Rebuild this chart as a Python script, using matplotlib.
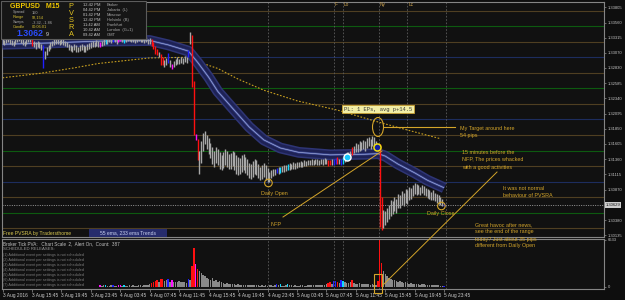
import matplotlib
matplotlib.use("Agg")
import matplotlib.pyplot as plt
from matplotlib.patches import Rectangle, Ellipse
from matplotlib.lines import Line2D
import numpy as np

plt.rcParams['font.family'] = ['Liberation Sans', 'DejaVu Sans']

# ---------------- data: GBPUSD M15, prices in pips above 1.3000 ----------------
highs = [
 330,328,331,333,330,328,326,329,332,334,
 331,329,327,330,333,331,329,326,324,327,
 325,322,320,310,316,320,324,327,329,331,
 330,328,331,329,327,325,322,320,318,321,
 319,317,320,322,319,318,321,323,325,327,
 325,328,326,324,327,329,331,330,332,331,
 333,332,330,332,334,333,331,333,335,334,
 332,333,331,333,334,332,333,331,332,330,
 331,330,325,318,314,308,305,300,296,299,
 307,296,289,294,297,300,298,301,299,302,
 300,312,341,336,262,176,168,150,165,178,
 182,175,170,162,155,150,156,152,147,143,
 148,152,149,145,146,150,148,143,140,138,
 142,145,140,136,130,128,133,137,134,128,
 124,127,130,126,122,115,118,120,121,122,
 124,123,125,127,126,128,130,129,131,130,
 132,131,133,132,134,133,135,134,136,135,
 137,136,135,137,136,138,137,134,135,136,
 137,138,139,137,136,140,145,148,147,150,
 156,158,162,160,165,163,167,165,170,172,
 168,174,171,165,158,160,75,55,52,58,
 62,70,68,75,72,80,78,85,82,88,
 86,92,90,95,98,96,94,92,95,93,
 90,88,86,84,86,82,80,78,75,72,
 65]
lows = [
 322,320,323,325,322,319,318,321,324,326,
 323,320,318,322,325,324,318,316,314,317,
 315,312,283,298,304,310,314,318,320,322,
 321,320,322,320,318,316,312,310,309,311,
 309,308,310,312,309,308,311,313,315,317,
 316,318,317,317,318,320,322,322,324,323,
 325,324,322,324,326,325,323,325,327,326,
 324,325,323,325,326,324,325,323,324,322,
 322,318,314,306,303,300,288,288,285,287,
 291,284,281,284,288,290,289,291,290,292,
 291,300,322,252,175,167,135,112,130,150,
 160,152,145,138,128,124,130,126,121,119,
 122,127,124,120,121,125,118,112,110,112,
 115,118,114,110,106,104,108,112,110,105,
 102,104,107,103,99,100,106,109,110,113,
 112,113,115,116,117,118,119,120,121,121,
 122,123,124,123,125,125,126,126,127,126,
 128,127,126,128,127,129,128,125,126,126,
 127,128,129,128,126,128,132,136,137,138,
 143,146,148,147,150,151,152,150,154,157,
 153,158,155,152,150,27,22,25,30,35,
 40,45,48,52,50,57,58,63,60,66,
 64,70,72,76,80,78,80,79,81,78,
 76,74,72,70,71,68,66,64,62,61,
 61]

red_bars = [16, 81, 82, 83, 84, 86, 87, 103, 104, 106, 177, 178, 182, 190, 204, 205, 206]
blue_bars = [22, 60, 90, 101, 149, 180, 181, 184, 240]
magenta_bars = [53, 63, 64, 92, 105]
cyan_bars = [56, 66, 151, 155, 185]

vol_start = 53
volume = [
 180,150,200,260,160,140,180,
 230,150,170,280,300,160,290,170,150,190,
 160,210,170,150,200,180,160,220,260,300,
 380,520,650,780,900,600,1100,1150,800,900,
 1050,700,1000,650,700,600,750,650,700,600,
 550,1100,900,2900,5480,3200,2500,2300,1900,1700,
 1500,1200,1100,950,1300,800,900,700,750,600,
 550,450,500,400,350,420,380,300,350,280,
 250,300,230,260,200,240,210,180,220,190,
 170,200,160,180,150,220,180,160,200,320,
 180,360,170,150,190,400,200,180,160,200,
 170,150,180,210,170,160,190,230,200,180,
 250,220,280,240,300,260,320,500,600,420,
 750,800,700,500,900,800,600,550,500,620,
 1000,500,450,400,550,420,380,450,350,400,
 300,350,280,250,850,6633,3300,2200,1800,1500,
 1300,1100,900,1000,800,700,750,600,550,650,
 500,450,520,400,380,450,350,300,380,320,
 280,250,300,220,260,200,180,220,150,120,
 100]
vol_max_label = 6633

# 55 EMA band and 233 EMA (pips above 1.3000)
ema55_bars = [0, 25, 52, 80, 90, 101, 106, 112, 117, 125, 134, 142, 151, 161, 178, 197, 204, 208, 215, 224, 231, 240]
ema55_vals = [321, 323, 326, 327, 320, 310, 292, 268, 245, 218, 188, 167, 154, 147, 143, 144, 145, 141, 128, 114, 102, 90]
ema233_bars = [0, 20, 39, 52, 80, 101, 106, 117, 128, 142, 160, 182, 204, 220, 238]
ema233_vals = [267, 274, 283, 290, 299, 300, 293, 282, 265, 247, 230, 215, 196, 183, 169]

round_levels = [1.3025, 1.3050, 1.3075, 1.3100, 1.3125, 1.3150, 1.3175, 1.3200,
                1.3225, 1.3250, 1.3275, 1.3300, 1.3325, 1.3350, 1.3375]
price_ticks = [1.33805, 1.33560, 1.33315, 1.33070, 1.32830, 1.32585, 1.32340, 1.32095,
               1.31850, 1.31605, 1.31360, 1.31115, 1.30870, 1.30380, 1.30135]
last_price = 1.30629

time_label_bars = [0, 16, 32, 48, 64, 80, 96, 112, 128, 144, 160, 176, 192, 208, 224, 240]
time_labels = ["3 Aug 2016", "3 Aug 15:45", "3 Aug 19:45", "3 Aug 23:45", "4 Aug 03:45",
               "4 Aug 07:45", "4 Aug 11:45", "4 Aug 15:45", "4 Aug 19:45", "4 Aug 23:45",
               "5 Aug 03:45", "5 Aug 07:45", "5 Aug 11:45", "5 Aug 15:45", "5 Aug 19:45",
               "5 Aug 23:45"]

session_bars = [144, 180, 185, 204.5, 220, 241]
session_names = ["", "F", "Lo", "Ny", "Lc", ""]

daily_bars = [144.5, 238.5]
daily_prices = [1.30978, 1.30607]
signal_bars = [187, 203.5]
signal_prices = [1.31396, 1.31558]

# ---------------- figure ----------------
W, H = 625, 300
BG = '#111111'
GOLD = '#d4a52a'
fig = plt.figure(figsize=(6.25, 3.0), dpi=100)
fig.patch.set_facecolor('#0e0e0e')

ax = fig.add_axes([2 / W, 1 - 237 / H, 602 / W, 235 / H])
axv = fig.add_axes([2 / W, 1 - 289 / H, 602 / W, 50 / H])
X0, X1 = -0.3, -0.3 + 602 / 1.84
for a in (ax, axv):
    a.set_facecolor(BG)
    a.set_xlim(X0, X1)
    for s in a.spines.values():
        s.set_color('#858585')
        s.set_linewidth(0.8)
ax.set_ylim(1.30108, 1.33890)
axv.set_ylim(-325, 6774)

def to_price(v):
    return 1.3 + np.asarray(v, dtype=float) / 10000.0

# round-number levels
for lv in round_levels:
    k = int(round(lv * 10000)) % 100
    c = '#1d2d5e' if k == 0 else ('#0d5a10' if k == 50 else '#4f3f22')
    ax.axhline(lv, color=c, lw=0.8, zorder=1)

# session lines
for b in session_bars:
    for a in (ax, axv):
        a.axvline(b, color='#5c5c5c', lw=0.6, ls=(0, (2, 2)), zorder=1.5)
for b, nm in zip(session_bars, session_names):
    if nm:
        ax.text(b + 0.6, 0.991, nm, transform=ax.get_xaxis_transform(), fontsize=3.4,
                color='#c8a050', va='center', ha='left', zorder=6)

# current price dotted line
ax.axhline(last_price, color='#9a9a9a', lw=0.7, ls=(0, (1, 1.4)), zorder=2)

# EMA 233 dotted and 55 EMA band
ax.plot(ema233_bars, to_price(ema233_vals), color='#c9a020', lw=0.8, ls=(0, (1.5, 1.5)), zorder=2)
e55 = to_price(ema55_vals)
ax.plot(ema55_bars, e55, color='#2e3575', lw=7.8, solid_capstyle='butt', zorder=3)
ax.plot(ema55_bars, e55, color='#1e2255', lw=5.6, solid_capstyle='butt', zorder=3)
ax.plot(ema55_bars, e55, color='#3a4690', lw=1.6, solid_capstyle='butt', zorder=3)
ax.plot(ema55_bars, e55, color='#a6b2e0', lw=0.45, solid_capstyle='butt', zorder=3)

# bar colours
n = len(highs)
cols = ['#a8a8a8'] * n
for lst, c in ((red_bars, '#ff1010'), (blue_bars, '#2020ff'),
               (magenta_bars, '#ff10ff'), (cyan_bars, '#10d8ff')):
    for i in lst:
        cols[i] = c
idx = np.arange(n)
ax.vlines(idx, to_price(lows), to_price(highs), colors=cols, lw=1.0, zorder=4)

# markers
ax.scatter(daily_bars, daily_prices, s=30, facecolors='none', edgecolors=GOLD, linewidths=0.8, zorder=6)
ax.scatter(signal_bars[:1], signal_prices[:1], s=26, facecolors='#18c8ff', edgecolors='white', linewidths=1.0, zorder=6)
ax.scatter(signal_bars[1:], signal_prices[1:], s=26, facecolors='#1020a0', edgecolors='#f0e010', linewidths=1.1, zorder=6)

# price axis on right
ax.yaxis.tick_right()
ax.set_yticks(price_ticks)
ax.set_yticklabels([f"{p:.5f}" for p in price_ticks])
ax.tick_params(axis='y', length=1.5, width=0.5, color='#909090', labelsize=3.0,
               labelcolor='#c4c4c4', pad=1)
ax.tick_params(axis='x', bottom=False, labelbottom=False)

# volume panel
vx = np.arange(vol_start, vol_start + len(volume))
axv.bar(vx, volume, width=0.8, color=[cols[i] if cols[i] != '#a8a8a8' else '#8a8a8a' for i in vx],
        linewidth=0, zorder=3)
axv.yaxis.tick_right()
axv.set_yticks([0, vol_max_label])
axv.set_yticklabels(['0', str(vol_max_label)])
axv.tick_params(axis='y', length=1.5, width=0.5, color='#909090', labelsize=3.0,
                labelcolor='#c4c4c4', pad=1)
axv.set_xticks(time_label_bars)
axv.set_xticklabels(time_labels)
axv.tick_params(axis='x', length=2, width=0.5, color='#909090', labelsize=3.5,
                labelcolor='#c8c8c8', pad=1.2)
for lb in axv.get_xticklabels():
    lb.set_ha('left')

# ---------------- helpers in pixel space ----------------
def T(x, y, s, **kw):
    kw.setdefault('va', 'center')
    kw.setdefault('ha', 'left')
    kw.setdefault('zorder', 12)
    return fig.text(x / W, 1 - y / H, s, **kw)

def L(x1, y1, x2, y2, **kw):
    fig.add_artist(Line2D([x1 / W, x2 / W], [1 - y1 / H, 1 - y2 / H],
                          transform=fig.transFigure, **kw))

def R(x, y, w, h, **kw):
    fig.add_artist(Rectangle((x / W, 1 - (y + h) / H), w / W, h / H,
                             transform=fig.transFigure, **kw))

# info box
R(0.5, 0.5, 145.5, 38.5, facecolor='#161616', edgecolor='#5c5c5c', lw=0.8, zorder=10)
T(10, 6.5, "GBPUSD   M15", fontsize=5, fontweight='bold', color='#f0c800')
info_names = ["Spread", "Range", "Swaps", "Candle"]
info_vals = ["150", "92,154", "-3.32, -1.86", "00:06:01"]
info_cols = ['#a8a8a8', '#d8c030', '#a8a8a8', '#d8c030']
for k, (a, b, c) in enumerate(zip(info_names, info_vals, info_cols)):
    T(13, 12.5 + 4.8 * k, a, fontsize=2.8, color=c)
    T(32, 12.5 + 4.8 * k, b, fontsize=2.8, color=c)
T(16, 33.5, "1.3062", fontsize=6.3, fontweight='bold', color='#2a4cff')
T(45.5, 34.5, "9", fontsize=4, color='#d8d8d8')
for k, ch in enumerate("PVSRA"):
    T(71, 7 + 6.8 * k, ch, fontsize=5.3, color='#e4c420', ha='center')
times = ["12:42 PM", "04:42 PM", "01:42 PM", "12:42 PM", "11:42 AM", "10:42 AM", "09:42 AM"]
cities = ["Broker", "Jakarta  (L)", "Moscow", "Helsinki  (B)", "Frankfurt", "London  (G+1)", "GMT"]
for k, (t, c) in enumerate(zip(times, cities)):
    T(83, 5 + 5 * k, t, fontsize=2.9, color='#c8c8c8')
    T(107, 5 + 5 * k, c, fontsize=2.9, color='#a8a8a8')

# bottom strip in main chart
T(3, 233, "Free PVSRA by Tradersthome", fontsize=3.6, color='#d8c850')
R(89, 229, 78, 8, facecolor='#262c6c', edgecolor='none', zorder=10)
T(128, 233, "55 ema, 233 ema Trends", fontsize=3.6, color='#c8d0f0', ha='center')

# lower panel text
T(3, 243.5, "Broker Tick PVA:   Chart Scale  2,  Alert On,  Count:  387", fontsize=3.3, color='#c4c4c4')
T(3, 249.5, "SCHEDULED RELEASES:", fontsize=3.1, color='#9a9a9a')
for k in range(7):
    T(3, 255 + 5 * k, f"({k + 1}) Additional event per settings is not scheduled",
      fontsize=2.7, color='#7c7c7c')

# current price label
T(605.5, 205, f"{last_price:.5f}", fontsize=3.0, color='#111111',
  bbox=dict(facecolor='#cdcdcd', edgecolor='none', pad=0.6))

# annotations
T(378, 109, "PL: 1 EPs, avg p+14.5", fontsize=4, family='Liberation Mono', color='#3a3a3a', ha='center',
  bbox=dict(boxstyle='square,pad=0.25', facecolor='#f2eea6', edgecolor='#c8a030', lw=0.6))
fig.add_artist(Ellipse((378 / W, 1 - 127 / H), 11 / W, 19 / H, transform=fig.transFigure,
                       fill=False, edgecolor=GOLD, lw=0.8, zorder=9))
L(384, 127, 455, 127, color=GOLD, lw=0.8, zorder=9)
T(460, 128, "My Target around here", fontsize=3.9, color=GOLD)
T(460, 135, "54 pips", fontsize=3.9, color=GOLD)
for k, s in enumerate(["15 minutes before the", "NFP, The prices whacked", "with a good activities"]):
    T(462, 153 + 7 * k, s, fontsize=3.9, color=GOLD)
for k, s in enumerate(["It was not normal", "behaviour of PVSRA"]):
    T(503, 188.5 + 7 * k, s, fontsize=3.9, color=GOLD)
for k, s in enumerate(["Great havoc after news,", "see the end of the range",
                       "today? Just about 35 pips", "different from Daily Open"]):
    T(475, 225 + 7 * k, s, fontsize=3.9, color=GOLD)
T(274, 193, "Daily Open", fontsize=3.9, color=GOLD, ha='center')
T(441, 213, "Daily Close", fontsize=3.9, color=GOLD, ha='center')
T(276, 225, "NFP", fontsize=3.9, color=GOLD, ha='center')
L(283, 217, 382, 151, color=GOLD, lw=0.7, zorder=9)
L(497, 172, 383, 285, color=GOLD, lw=0.7, zorder=9)
R(374, 274, 8, 19, facecolor='none', edgecolor=GOLD, lw=0.8, zorder=9)

fig.savefig("out.png", dpi=100, facecolor=fig.get_facecolor())
